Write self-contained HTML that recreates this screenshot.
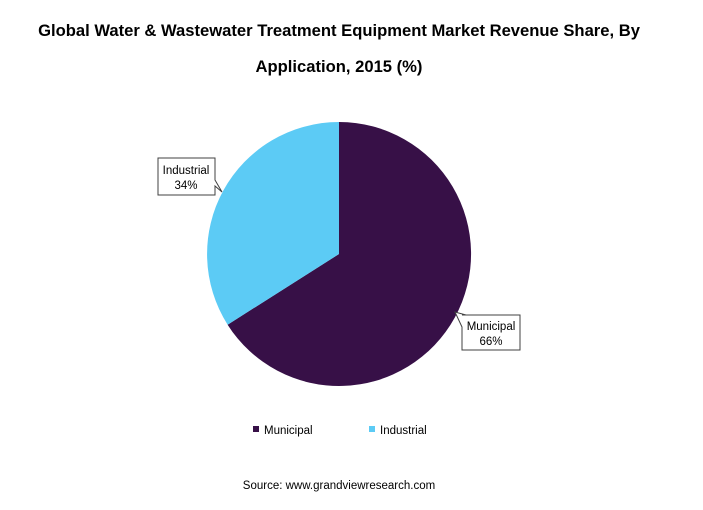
<!DOCTYPE html>
<html><head><style>
body{margin:0;background:#fff;}
svg text{font-family:"Liberation Sans",Calibri,sans-serif;}
</style></head><body>
<svg width="703" height="505" viewBox="0 0 703 505" xmlns="http://www.w3.org/2000/svg">
<rect width="703" height="505" fill="#fff"/>
<text x="339" y="36" text-anchor="middle" font-size="16.6" font-weight="bold" fill="#000">Global Water &amp; Wastewater Treatment Equipment Market Revenue Share, By</text>
<text x="339" y="72" text-anchor="middle" font-size="16.6" font-weight="bold" fill="#000">Application, 2015 (%)</text>
<path d="M339,254 L339,122 A132,132 0 1,1 227.6,324.7 Z" fill="#371047"/>
<path d="M339,254 L227.6,324.7 A132,132 0 0,1 339,122 Z" fill="#5ccbf5"/>
<path d="M158,158 H215 V180 L222,192 L215,186 V195 H158 Z" fill="#fff" stroke="#404040" stroke-width="1"/>
<text x="186" y="174" text-anchor="middle" font-size="11.5" fill="#000">Industrial</text>
<text x="186" y="189" text-anchor="middle" font-size="11.5" fill="#000">34%</text>
<path d="M462,315 H520 V350 H462 V327 L455,312 L466,315 Z" fill="#fff" stroke="#404040" stroke-width="1"/>
<text x="491" y="330" text-anchor="middle" font-size="11.5" fill="#000">Municipal</text>
<text x="491" y="345" text-anchor="middle" font-size="11.5" fill="#000">66%</text>
<rect x="253" y="426" width="6" height="6" fill="#371047"/>
<text x="264" y="434" font-size="11.5" fill="#000">Municipal</text>
<rect x="369" y="426" width="6" height="6" fill="#5ccbf5"/>
<text x="380" y="434" font-size="11.5" fill="#000">Industrial</text>
<text x="339" y="489" text-anchor="middle" font-size="11.5" fill="#000">Source: www.grandviewresearch.com</text>
</svg>
</body></html>
